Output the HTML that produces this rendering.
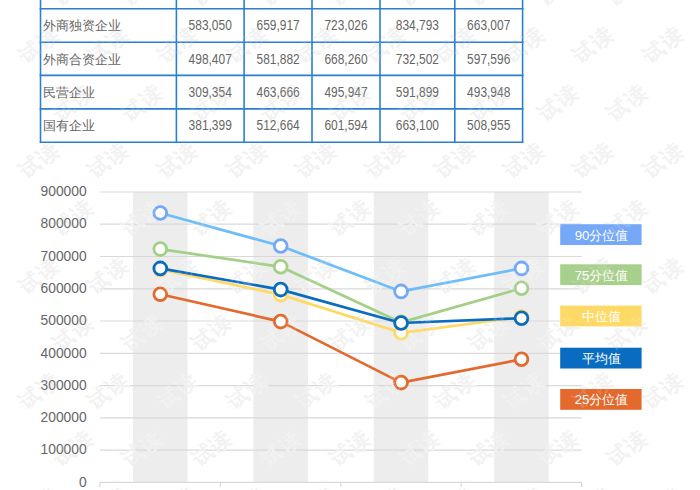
<!DOCTYPE html><html><head><meta charset="utf-8"><style>html,body{margin:0;padding:0;background:#fff;width:700px;height:490px;overflow:hidden}svg{display:block}text{font-family:"Liberation Sans",sans-serif}</style></head><body>
<svg width="700" height="490" viewBox="0 0 700 490">
<g fill="#ededed">
<rect x="133.0" y="192.0" width="54.5" height="290.4"/>
<rect x="253.4" y="192.0" width="54.5" height="290.4"/>
<rect x="373.8" y="192.0" width="54.5" height="290.4"/>
<rect x="494.2" y="192.0" width="54.5" height="290.4"/>
</g>
<g stroke="#d9d9d9" stroke-width="1.2">
<line x1="100" y1="482.4" x2="581.6" y2="482.4"/>
<line x1="100" y1="450.1" x2="581.6" y2="450.1"/>
<line x1="100" y1="417.9" x2="581.6" y2="417.9"/>
<line x1="100" y1="385.6" x2="581.6" y2="385.6"/>
<line x1="100" y1="353.3" x2="581.6" y2="353.3"/>
<line x1="100" y1="321.0" x2="581.6" y2="321.0"/>
<line x1="100" y1="288.8" x2="581.6" y2="288.8"/>
<line x1="100" y1="256.5" x2="581.6" y2="256.5"/>
<line x1="100" y1="224.2" x2="581.6" y2="224.2"/>
<line x1="100" y1="192.0" x2="581.6" y2="192.0"/>
<line x1="100.0" y1="482.4" x2="100.0" y2="486.9"/>
<line x1="220.4" y1="482.4" x2="220.4" y2="486.9"/>
<line x1="340.8" y1="482.4" x2="340.8" y2="486.9"/>
<line x1="461.2" y1="482.4" x2="461.2" y2="486.9"/>
<line x1="581.6" y1="482.4" x2="581.6" y2="486.9"/>
</g>
<g fill="#f2f2f2" fill-opacity="1" font-size="21" stroke="#f2f2f2" stroke-opacity="1" stroke-width="0.5"><text x="73.2" y="-13.2" transform="rotate(-38 73.2 -13.2)" text-anchor="middle" dominant-baseline="central" letter-spacing="1.5">试读</text><text x="142.5" y="-13.2" transform="rotate(-38 142.5 -13.2)" text-anchor="middle" dominant-baseline="central" letter-spacing="1.5">试读</text><text x="211.8" y="-13.2" transform="rotate(-38 211.8 -13.2)" text-anchor="middle" dominant-baseline="central" letter-spacing="1.5">试读</text><text x="281.1" y="-13.2" transform="rotate(-38 281.1 -13.2)" text-anchor="middle" dominant-baseline="central" letter-spacing="1.5">试读</text><text x="350.4" y="-13.2" transform="rotate(-38 350.4 -13.2)" text-anchor="middle" dominant-baseline="central" letter-spacing="1.5">试读</text><text x="419.7" y="-13.2" transform="rotate(-38 419.7 -13.2)" text-anchor="middle" dominant-baseline="central" letter-spacing="1.5">试读</text><text x="489.0" y="-13.2" transform="rotate(-38 489.0 -13.2)" text-anchor="middle" dominant-baseline="central" letter-spacing="1.5">试读</text><text x="558.3" y="-13.2" transform="rotate(-38 558.3 -13.2)" text-anchor="middle" dominant-baseline="central" letter-spacing="1.5">试读</text><text x="627.6" y="-13.2" transform="rotate(-38 627.6 -13.2)" text-anchor="middle" dominant-baseline="central" letter-spacing="1.5">试读</text><text x="39.2" y="44.4" transform="rotate(-38 39.2 44.4)" text-anchor="middle" dominant-baseline="central" letter-spacing="1.5">试读</text><text x="108.5" y="44.4" transform="rotate(-38 108.5 44.4)" text-anchor="middle" dominant-baseline="central" letter-spacing="1.5">试读</text><text x="177.8" y="44.4" transform="rotate(-38 177.8 44.4)" text-anchor="middle" dominant-baseline="central" letter-spacing="1.5">试读</text><text x="247.1" y="44.4" transform="rotate(-38 247.1 44.4)" text-anchor="middle" dominant-baseline="central" letter-spacing="1.5">试读</text><text x="316.4" y="44.4" transform="rotate(-38 316.4 44.4)" text-anchor="middle" dominant-baseline="central" letter-spacing="1.5">试读</text><text x="385.7" y="44.4" transform="rotate(-38 385.7 44.4)" text-anchor="middle" dominant-baseline="central" letter-spacing="1.5">试读</text><text x="455.0" y="44.4" transform="rotate(-38 455.0 44.4)" text-anchor="middle" dominant-baseline="central" letter-spacing="1.5">试读</text><text x="524.3" y="44.4" transform="rotate(-38 524.3 44.4)" text-anchor="middle" dominant-baseline="central" letter-spacing="1.5">试读</text><text x="593.6" y="44.4" transform="rotate(-38 593.6 44.4)" text-anchor="middle" dominant-baseline="central" letter-spacing="1.5">试读</text><text x="662.9" y="44.4" transform="rotate(-38 662.9 44.4)" text-anchor="middle" dominant-baseline="central" letter-spacing="1.5">试读</text><text x="73.2" y="102.0" transform="rotate(-38 73.2 102.0)" text-anchor="middle" dominant-baseline="central" letter-spacing="1.5">试读</text><text x="142.5" y="102.0" transform="rotate(-38 142.5 102.0)" text-anchor="middle" dominant-baseline="central" letter-spacing="1.5">试读</text><text x="211.8" y="102.0" transform="rotate(-38 211.8 102.0)" text-anchor="middle" dominant-baseline="central" letter-spacing="1.5">试读</text><text x="281.1" y="102.0" transform="rotate(-38 281.1 102.0)" text-anchor="middle" dominant-baseline="central" letter-spacing="1.5">试读</text><text x="350.4" y="102.0" transform="rotate(-38 350.4 102.0)" text-anchor="middle" dominant-baseline="central" letter-spacing="1.5">试读</text><text x="419.7" y="102.0" transform="rotate(-38 419.7 102.0)" text-anchor="middle" dominant-baseline="central" letter-spacing="1.5">试读</text><text x="489.0" y="102.0" transform="rotate(-38 489.0 102.0)" text-anchor="middle" dominant-baseline="central" letter-spacing="1.5">试读</text><text x="558.3" y="102.0" transform="rotate(-38 558.3 102.0)" text-anchor="middle" dominant-baseline="central" letter-spacing="1.5">试读</text><text x="627.6" y="102.0" transform="rotate(-38 627.6 102.0)" text-anchor="middle" dominant-baseline="central" letter-spacing="1.5">试读</text><text x="39.2" y="159.6" transform="rotate(-38 39.2 159.6)" text-anchor="middle" dominant-baseline="central" letter-spacing="1.5">试读</text><text x="108.5" y="159.6" transform="rotate(-38 108.5 159.6)" text-anchor="middle" dominant-baseline="central" letter-spacing="1.5">试读</text><text x="177.8" y="159.6" transform="rotate(-38 177.8 159.6)" text-anchor="middle" dominant-baseline="central" letter-spacing="1.5">试读</text><text x="247.1" y="159.6" transform="rotate(-38 247.1 159.6)" text-anchor="middle" dominant-baseline="central" letter-spacing="1.5">试读</text><text x="316.4" y="159.6" transform="rotate(-38 316.4 159.6)" text-anchor="middle" dominant-baseline="central" letter-spacing="1.5">试读</text><text x="385.7" y="159.6" transform="rotate(-38 385.7 159.6)" text-anchor="middle" dominant-baseline="central" letter-spacing="1.5">试读</text><text x="455.0" y="159.6" transform="rotate(-38 455.0 159.6)" text-anchor="middle" dominant-baseline="central" letter-spacing="1.5">试读</text><text x="524.3" y="159.6" transform="rotate(-38 524.3 159.6)" text-anchor="middle" dominant-baseline="central" letter-spacing="1.5">试读</text><text x="593.6" y="159.6" transform="rotate(-38 593.6 159.6)" text-anchor="middle" dominant-baseline="central" letter-spacing="1.5">试读</text><text x="662.9" y="159.6" transform="rotate(-38 662.9 159.6)" text-anchor="middle" dominant-baseline="central" letter-spacing="1.5">试读</text><text x="73.2" y="217.2" transform="rotate(-38 73.2 217.2)" text-anchor="middle" dominant-baseline="central" letter-spacing="1.5">试读</text><text x="142.5" y="217.2" transform="rotate(-38 142.5 217.2)" text-anchor="middle" dominant-baseline="central" letter-spacing="1.5">试读</text><text x="211.8" y="217.2" transform="rotate(-38 211.8 217.2)" text-anchor="middle" dominant-baseline="central" letter-spacing="1.5">试读</text><text x="281.1" y="217.2" transform="rotate(-38 281.1 217.2)" text-anchor="middle" dominant-baseline="central" letter-spacing="1.5">试读</text><text x="350.4" y="217.2" transform="rotate(-38 350.4 217.2)" text-anchor="middle" dominant-baseline="central" letter-spacing="1.5">试读</text><text x="419.7" y="217.2" transform="rotate(-38 419.7 217.2)" text-anchor="middle" dominant-baseline="central" letter-spacing="1.5">试读</text><text x="489.0" y="217.2" transform="rotate(-38 489.0 217.2)" text-anchor="middle" dominant-baseline="central" letter-spacing="1.5">试读</text><text x="558.3" y="217.2" transform="rotate(-38 558.3 217.2)" text-anchor="middle" dominant-baseline="central" letter-spacing="1.5">试读</text><text x="627.6" y="217.2" transform="rotate(-38 627.6 217.2)" text-anchor="middle" dominant-baseline="central" letter-spacing="1.5">试读</text><text x="39.2" y="274.8" transform="rotate(-38 39.2 274.8)" text-anchor="middle" dominant-baseline="central" letter-spacing="1.5">试读</text><text x="108.5" y="274.8" transform="rotate(-38 108.5 274.8)" text-anchor="middle" dominant-baseline="central" letter-spacing="1.5">试读</text><text x="177.8" y="274.8" transform="rotate(-38 177.8 274.8)" text-anchor="middle" dominant-baseline="central" letter-spacing="1.5">试读</text><text x="247.1" y="274.8" transform="rotate(-38 247.1 274.8)" text-anchor="middle" dominant-baseline="central" letter-spacing="1.5">试读</text><text x="316.4" y="274.8" transform="rotate(-38 316.4 274.8)" text-anchor="middle" dominant-baseline="central" letter-spacing="1.5">试读</text><text x="385.7" y="274.8" transform="rotate(-38 385.7 274.8)" text-anchor="middle" dominant-baseline="central" letter-spacing="1.5">试读</text><text x="455.0" y="274.8" transform="rotate(-38 455.0 274.8)" text-anchor="middle" dominant-baseline="central" letter-spacing="1.5">试读</text><text x="524.3" y="274.8" transform="rotate(-38 524.3 274.8)" text-anchor="middle" dominant-baseline="central" letter-spacing="1.5">试读</text><text x="593.6" y="274.8" transform="rotate(-38 593.6 274.8)" text-anchor="middle" dominant-baseline="central" letter-spacing="1.5">试读</text><text x="662.9" y="274.8" transform="rotate(-38 662.9 274.8)" text-anchor="middle" dominant-baseline="central" letter-spacing="1.5">试读</text><text x="73.2" y="332.4" transform="rotate(-38 73.2 332.4)" text-anchor="middle" dominant-baseline="central" letter-spacing="1.5">试读</text><text x="142.5" y="332.4" transform="rotate(-38 142.5 332.4)" text-anchor="middle" dominant-baseline="central" letter-spacing="1.5">试读</text><text x="211.8" y="332.4" transform="rotate(-38 211.8 332.4)" text-anchor="middle" dominant-baseline="central" letter-spacing="1.5">试读</text><text x="281.1" y="332.4" transform="rotate(-38 281.1 332.4)" text-anchor="middle" dominant-baseline="central" letter-spacing="1.5">试读</text><text x="350.4" y="332.4" transform="rotate(-38 350.4 332.4)" text-anchor="middle" dominant-baseline="central" letter-spacing="1.5">试读</text><text x="419.7" y="332.4" transform="rotate(-38 419.7 332.4)" text-anchor="middle" dominant-baseline="central" letter-spacing="1.5">试读</text><text x="489.0" y="332.4" transform="rotate(-38 489.0 332.4)" text-anchor="middle" dominant-baseline="central" letter-spacing="1.5">试读</text><text x="558.3" y="332.4" transform="rotate(-38 558.3 332.4)" text-anchor="middle" dominant-baseline="central" letter-spacing="1.5">试读</text><text x="627.6" y="332.4" transform="rotate(-38 627.6 332.4)" text-anchor="middle" dominant-baseline="central" letter-spacing="1.5">试读</text><text x="39.2" y="390.0" transform="rotate(-38 39.2 390.0)" text-anchor="middle" dominant-baseline="central" letter-spacing="1.5">试读</text><text x="108.5" y="390.0" transform="rotate(-38 108.5 390.0)" text-anchor="middle" dominant-baseline="central" letter-spacing="1.5">试读</text><text x="177.8" y="390.0" transform="rotate(-38 177.8 390.0)" text-anchor="middle" dominant-baseline="central" letter-spacing="1.5">试读</text><text x="247.1" y="390.0" transform="rotate(-38 247.1 390.0)" text-anchor="middle" dominant-baseline="central" letter-spacing="1.5">试读</text><text x="316.4" y="390.0" transform="rotate(-38 316.4 390.0)" text-anchor="middle" dominant-baseline="central" letter-spacing="1.5">试读</text><text x="385.7" y="390.0" transform="rotate(-38 385.7 390.0)" text-anchor="middle" dominant-baseline="central" letter-spacing="1.5">试读</text><text x="455.0" y="390.0" transform="rotate(-38 455.0 390.0)" text-anchor="middle" dominant-baseline="central" letter-spacing="1.5">试读</text><text x="524.3" y="390.0" transform="rotate(-38 524.3 390.0)" text-anchor="middle" dominant-baseline="central" letter-spacing="1.5">试读</text><text x="593.6" y="390.0" transform="rotate(-38 593.6 390.0)" text-anchor="middle" dominant-baseline="central" letter-spacing="1.5">试读</text><text x="662.9" y="390.0" transform="rotate(-38 662.9 390.0)" text-anchor="middle" dominant-baseline="central" letter-spacing="1.5">试读</text><text x="73.2" y="447.6" transform="rotate(-38 73.2 447.6)" text-anchor="middle" dominant-baseline="central" letter-spacing="1.5">试读</text><text x="142.5" y="447.6" transform="rotate(-38 142.5 447.6)" text-anchor="middle" dominant-baseline="central" letter-spacing="1.5">试读</text><text x="211.8" y="447.6" transform="rotate(-38 211.8 447.6)" text-anchor="middle" dominant-baseline="central" letter-spacing="1.5">试读</text><text x="281.1" y="447.6" transform="rotate(-38 281.1 447.6)" text-anchor="middle" dominant-baseline="central" letter-spacing="1.5">试读</text><text x="350.4" y="447.6" transform="rotate(-38 350.4 447.6)" text-anchor="middle" dominant-baseline="central" letter-spacing="1.5">试读</text><text x="419.7" y="447.6" transform="rotate(-38 419.7 447.6)" text-anchor="middle" dominant-baseline="central" letter-spacing="1.5">试读</text><text x="489.0" y="447.6" transform="rotate(-38 489.0 447.6)" text-anchor="middle" dominant-baseline="central" letter-spacing="1.5">试读</text><text x="558.3" y="447.6" transform="rotate(-38 558.3 447.6)" text-anchor="middle" dominant-baseline="central" letter-spacing="1.5">试读</text><text x="627.6" y="447.6" transform="rotate(-38 627.6 447.6)" text-anchor="middle" dominant-baseline="central" letter-spacing="1.5">试读</text><text x="39.2" y="505.2" transform="rotate(-38 39.2 505.2)" text-anchor="middle" dominant-baseline="central" letter-spacing="1.5">试读</text><text x="108.5" y="505.2" transform="rotate(-38 108.5 505.2)" text-anchor="middle" dominant-baseline="central" letter-spacing="1.5">试读</text><text x="177.8" y="505.2" transform="rotate(-38 177.8 505.2)" text-anchor="middle" dominant-baseline="central" letter-spacing="1.5">试读</text><text x="247.1" y="505.2" transform="rotate(-38 247.1 505.2)" text-anchor="middle" dominant-baseline="central" letter-spacing="1.5">试读</text><text x="316.4" y="505.2" transform="rotate(-38 316.4 505.2)" text-anchor="middle" dominant-baseline="central" letter-spacing="1.5">试读</text><text x="385.7" y="505.2" transform="rotate(-38 385.7 505.2)" text-anchor="middle" dominant-baseline="central" letter-spacing="1.5">试读</text><text x="455.0" y="505.2" transform="rotate(-38 455.0 505.2)" text-anchor="middle" dominant-baseline="central" letter-spacing="1.5">试读</text><text x="524.3" y="505.2" transform="rotate(-38 524.3 505.2)" text-anchor="middle" dominant-baseline="central" letter-spacing="1.5">试读</text><text x="593.6" y="505.2" transform="rotate(-38 593.6 505.2)" text-anchor="middle" dominant-baseline="central" letter-spacing="1.5">试读</text><text x="662.9" y="505.2" transform="rotate(-38 662.9 505.2)" text-anchor="middle" dominant-baseline="central" letter-spacing="1.5">试读</text><text x="73.2" y="562.8" transform="rotate(-38 73.2 562.8)" text-anchor="middle" dominant-baseline="central" letter-spacing="1.5">试读</text><text x="142.5" y="562.8" transform="rotate(-38 142.5 562.8)" text-anchor="middle" dominant-baseline="central" letter-spacing="1.5">试读</text><text x="211.8" y="562.8" transform="rotate(-38 211.8 562.8)" text-anchor="middle" dominant-baseline="central" letter-spacing="1.5">试读</text><text x="281.1" y="562.8" transform="rotate(-38 281.1 562.8)" text-anchor="middle" dominant-baseline="central" letter-spacing="1.5">试读</text><text x="350.4" y="562.8" transform="rotate(-38 350.4 562.8)" text-anchor="middle" dominant-baseline="central" letter-spacing="1.5">试读</text><text x="419.7" y="562.8" transform="rotate(-38 419.7 562.8)" text-anchor="middle" dominant-baseline="central" letter-spacing="1.5">试读</text><text x="489.0" y="562.8" transform="rotate(-38 489.0 562.8)" text-anchor="middle" dominant-baseline="central" letter-spacing="1.5">试读</text><text x="558.3" y="562.8" transform="rotate(-38 558.3 562.8)" text-anchor="middle" dominant-baseline="central" letter-spacing="1.5">试读</text><text x="627.6" y="562.8" transform="rotate(-38 627.6 562.8)" text-anchor="middle" dominant-baseline="central" letter-spacing="1.5">试读</text><text x="39.2" y="620.4" transform="rotate(-38 39.2 620.4)" text-anchor="middle" dominant-baseline="central" letter-spacing="1.5">试读</text><text x="108.5" y="620.4" transform="rotate(-38 108.5 620.4)" text-anchor="middle" dominant-baseline="central" letter-spacing="1.5">试读</text><text x="177.8" y="620.4" transform="rotate(-38 177.8 620.4)" text-anchor="middle" dominant-baseline="central" letter-spacing="1.5">试读</text><text x="247.1" y="620.4" transform="rotate(-38 247.1 620.4)" text-anchor="middle" dominant-baseline="central" letter-spacing="1.5">试读</text><text x="316.4" y="620.4" transform="rotate(-38 316.4 620.4)" text-anchor="middle" dominant-baseline="central" letter-spacing="1.5">试读</text><text x="385.7" y="620.4" transform="rotate(-38 385.7 620.4)" text-anchor="middle" dominant-baseline="central" letter-spacing="1.5">试读</text><text x="455.0" y="620.4" transform="rotate(-38 455.0 620.4)" text-anchor="middle" dominant-baseline="central" letter-spacing="1.5">试读</text><text x="524.3" y="620.4" transform="rotate(-38 524.3 620.4)" text-anchor="middle" dominant-baseline="central" letter-spacing="1.5">试读</text><text x="593.6" y="620.4" transform="rotate(-38 593.6 620.4)" text-anchor="middle" dominant-baseline="central" letter-spacing="1.5">试读</text><text x="662.9" y="620.4" transform="rotate(-38 662.9 620.4)" text-anchor="middle" dominant-baseline="central" letter-spacing="1.5">试读</text></g>
<g stroke="#2b7fcf" stroke-width="1.6" fill="none">
<line x1="40.5" y1="-30" x2="40.5" y2="142.2"/>
<line x1="176.4" y1="-30" x2="176.4" y2="142.2"/>
<line x1="244.1" y1="-30" x2="244.1" y2="142.2"/>
<line x1="312.0" y1="-30" x2="312.0" y2="142.2"/>
<line x1="380.0" y1="-30" x2="380.0" y2="142.2"/>
<line x1="454.8" y1="-30" x2="454.8" y2="142.2"/>
<line x1="522.6" y1="-30" x2="522.6" y2="142.2"/>
<line x1="39.65" y1="8.7" x2="523.45" y2="8.7"/>
<line x1="39.65" y1="42.2" x2="523.45" y2="42.2"/>
<line x1="39.65" y1="75.4" x2="523.45" y2="75.4"/>
<line x1="39.65" y1="108.9" x2="523.45" y2="108.9"/>
<line x1="39.65" y1="142.2" x2="523.45" y2="142.2"/>
</g>
<g fill="#666666" font-size="13">
<text x="43.4" y="30.2" font-size="13.3">外商独资企业</text>
<text transform="translate(210.2 30.4) scale(0.86 1)" font-size="13.9" text-anchor="middle">583,050</text>
<text transform="translate(278.1 30.4) scale(0.86 1)" font-size="13.9" text-anchor="middle">659,917</text>
<text transform="translate(346.0 30.4) scale(0.86 1)" font-size="13.9" text-anchor="middle">723,026</text>
<text transform="translate(417.4 30.4) scale(0.86 1)" font-size="13.9" text-anchor="middle">834,793</text>
<text transform="translate(488.7 30.4) scale(0.86 1)" font-size="13.9" text-anchor="middle">663,007</text>
<text x="43.4" y="63.5" font-size="13.3">外商合资企业</text>
<text transform="translate(210.2 63.7) scale(0.86 1)" font-size="13.9" text-anchor="middle">498,407</text>
<text transform="translate(278.1 63.7) scale(0.86 1)" font-size="13.9" text-anchor="middle">581,882</text>
<text transform="translate(346.0 63.7) scale(0.86 1)" font-size="13.9" text-anchor="middle">668,260</text>
<text transform="translate(417.4 63.7) scale(0.86 1)" font-size="13.9" text-anchor="middle">732,502</text>
<text transform="translate(488.7 63.7) scale(0.86 1)" font-size="13.9" text-anchor="middle">597,596</text>
<text x="43.4" y="96.9" font-size="13.3">民营企业</text>
<text transform="translate(210.2 97.1) scale(0.86 1)" font-size="13.9" text-anchor="middle">309,354</text>
<text transform="translate(278.1 97.1) scale(0.86 1)" font-size="13.9" text-anchor="middle">463,666</text>
<text transform="translate(346.0 97.1) scale(0.86 1)" font-size="13.9" text-anchor="middle">495,947</text>
<text transform="translate(417.4 97.1) scale(0.86 1)" font-size="13.9" text-anchor="middle">591,899</text>
<text transform="translate(488.7 97.1) scale(0.86 1)" font-size="13.9" text-anchor="middle">493,948</text>
<text x="43.4" y="130.2" font-size="13.3">国有企业</text>
<text transform="translate(210.2 130.4) scale(0.86 1)" font-size="13.9" text-anchor="middle">381,399</text>
<text transform="translate(278.1 130.4) scale(0.86 1)" font-size="13.9" text-anchor="middle">512,664</text>
<text transform="translate(346.0 130.4) scale(0.86 1)" font-size="13.9" text-anchor="middle">601,594</text>
<text transform="translate(417.4 130.4) scale(0.86 1)" font-size="13.9" text-anchor="middle">663,100</text>
<text transform="translate(488.7 130.4) scale(0.86 1)" font-size="13.9" text-anchor="middle">508,955</text>
</g>
<g fill="#666666" font-size="13.8" text-anchor="end">
<text x="86.6" y="486.6">0</text>
<text x="86.6" y="454.3">100000</text>
<text x="86.6" y="422.1">200000</text>
<text x="86.6" y="389.8">300000</text>
<text x="86.6" y="357.5">400000</text>
<text x="86.6" y="325.2">500000</text>
<text x="86.6" y="293.0">600000</text>
<text x="86.6" y="260.7">700000</text>
<text x="86.6" y="228.4">800000</text>
<text x="86.6" y="196.2">900000</text>
</g>
<polyline points="160.3,213.0 280.7,246.0 401.1,291.4 521.5,268.4" fill="none" stroke="#6dbdfa" stroke-width="2.7" stroke-linejoin="round"/>
<circle cx="160.3" cy="213.0" r="6.4" fill="#fff" stroke="#73a8f8" stroke-width="2.8"/>
<circle cx="280.7" cy="246.0" r="6.4" fill="#fff" stroke="#73a8f8" stroke-width="2.8"/>
<circle cx="401.1" cy="291.4" r="6.4" fill="#fff" stroke="#73a8f8" stroke-width="2.8"/>
<circle cx="521.5" cy="268.4" r="6.4" fill="#fff" stroke="#73a8f8" stroke-width="2.8"/>
<polyline points="160.3,294.2 280.7,321.6 401.1,382.6 521.5,359.3" fill="none" stroke="#e3692c" stroke-width="2.7" stroke-linejoin="round"/>
<circle cx="160.3" cy="294.2" r="6.4" fill="#fff" stroke="#e3692c" stroke-width="2.8"/>
<circle cx="280.7" cy="321.6" r="6.4" fill="#fff" stroke="#e3692c" stroke-width="2.8"/>
<circle cx="401.1" cy="382.6" r="6.4" fill="#fff" stroke="#e3692c" stroke-width="2.8"/>
<circle cx="521.5" cy="359.3" r="6.4" fill="#fff" stroke="#e3692c" stroke-width="2.8"/>
<polyline points="160.3,249.1 280.7,266.8 401.1,322.4 521.5,288.3" fill="none" stroke="#a3cf87" stroke-width="2.7" stroke-linejoin="round"/>
<circle cx="160.3" cy="249.1" r="6.4" fill="#fff" stroke="#a3cf87" stroke-width="2.8"/>
<circle cx="280.7" cy="266.8" r="6.4" fill="#fff" stroke="#a3cf87" stroke-width="2.8"/>
<circle cx="401.1" cy="322.4" r="6.4" fill="#fff" stroke="#a3cf87" stroke-width="2.8"/>
<circle cx="521.5" cy="288.3" r="6.4" fill="#fff" stroke="#a3cf87" stroke-width="2.8"/>
<polyline points="160.3,269.4 280.7,294.6 401.1,332.8 521.5,317.0" fill="none" stroke="#ffd966" stroke-width="2.7" stroke-linejoin="round"/>
<circle cx="160.3" cy="269.4" r="6.4" fill="#fff" stroke="#ffd966" stroke-width="2.8"/>
<circle cx="280.7" cy="294.6" r="6.4" fill="#fff" stroke="#ffd966" stroke-width="2.8"/>
<circle cx="401.1" cy="332.8" r="6.4" fill="#fff" stroke="#ffd966" stroke-width="2.8"/>
<circle cx="521.5" cy="317.0" r="6.4" fill="#fff" stroke="#ffd966" stroke-width="2.8"/>
<polyline points="160.3,268.4 280.7,289.6 401.1,323.0 521.5,318.2" fill="none" stroke="#0a6cc0" stroke-width="2.7" stroke-linejoin="round"/>
<circle cx="160.3" cy="268.4" r="6.4" fill="#fff" stroke="#0a6cc0" stroke-width="2.8"/>
<circle cx="280.7" cy="289.6" r="6.4" fill="#fff" stroke="#0a6cc0" stroke-width="2.8"/>
<circle cx="401.1" cy="323.0" r="6.4" fill="#fff" stroke="#0a6cc0" stroke-width="2.8"/>
<circle cx="521.5" cy="318.2" r="6.4" fill="#fff" stroke="#0a6cc0" stroke-width="2.8"/>
<rect x="560.2" y="224.2" width="81.4" height="20.8" fill="#76a8f8"/>
<text x="601.6" y="239.5" fill="#fff" font-size="13.2" text-anchor="middle">90分位值</text>
<rect x="560.2" y="264.3" width="81.4" height="20.8" fill="#a8d08d"/>
<text x="601.6" y="279.6" fill="#fff" font-size="13.2" text-anchor="middle">75分位值</text>
<rect x="560.2" y="305.6" width="81.4" height="20.8" fill="#ffd966"/>
<text x="601.6" y="320.90000000000003" fill="#fff" font-size="13.2" text-anchor="middle">中位值</text>
<rect x="560.2" y="347.7" width="81.4" height="20.8" fill="#0a6cc0"/>
<text x="601.6" y="363.0" fill="#fff" font-size="13.2" text-anchor="middle">平均值</text>
<rect x="560.2" y="389.0" width="81.4" height="20.8" fill="#e3692c"/>
<text x="601.6" y="404.3" fill="#fff" font-size="13.2" text-anchor="middle">25分位值</text>
<g fill="#f2f2f2" fill-opacity="0.2" font-size="21"><text x="73.2" y="-13.2" transform="rotate(-38 73.2 -13.2)" text-anchor="middle" dominant-baseline="central" letter-spacing="1.5">试读</text><text x="142.5" y="-13.2" transform="rotate(-38 142.5 -13.2)" text-anchor="middle" dominant-baseline="central" letter-spacing="1.5">试读</text><text x="211.8" y="-13.2" transform="rotate(-38 211.8 -13.2)" text-anchor="middle" dominant-baseline="central" letter-spacing="1.5">试读</text><text x="281.1" y="-13.2" transform="rotate(-38 281.1 -13.2)" text-anchor="middle" dominant-baseline="central" letter-spacing="1.5">试读</text><text x="350.4" y="-13.2" transform="rotate(-38 350.4 -13.2)" text-anchor="middle" dominant-baseline="central" letter-spacing="1.5">试读</text><text x="419.7" y="-13.2" transform="rotate(-38 419.7 -13.2)" text-anchor="middle" dominant-baseline="central" letter-spacing="1.5">试读</text><text x="489.0" y="-13.2" transform="rotate(-38 489.0 -13.2)" text-anchor="middle" dominant-baseline="central" letter-spacing="1.5">试读</text><text x="558.3" y="-13.2" transform="rotate(-38 558.3 -13.2)" text-anchor="middle" dominant-baseline="central" letter-spacing="1.5">试读</text><text x="627.6" y="-13.2" transform="rotate(-38 627.6 -13.2)" text-anchor="middle" dominant-baseline="central" letter-spacing="1.5">试读</text><text x="39.2" y="44.4" transform="rotate(-38 39.2 44.4)" text-anchor="middle" dominant-baseline="central" letter-spacing="1.5">试读</text><text x="108.5" y="44.4" transform="rotate(-38 108.5 44.4)" text-anchor="middle" dominant-baseline="central" letter-spacing="1.5">试读</text><text x="177.8" y="44.4" transform="rotate(-38 177.8 44.4)" text-anchor="middle" dominant-baseline="central" letter-spacing="1.5">试读</text><text x="247.1" y="44.4" transform="rotate(-38 247.1 44.4)" text-anchor="middle" dominant-baseline="central" letter-spacing="1.5">试读</text><text x="316.4" y="44.4" transform="rotate(-38 316.4 44.4)" text-anchor="middle" dominant-baseline="central" letter-spacing="1.5">试读</text><text x="385.7" y="44.4" transform="rotate(-38 385.7 44.4)" text-anchor="middle" dominant-baseline="central" letter-spacing="1.5">试读</text><text x="455.0" y="44.4" transform="rotate(-38 455.0 44.4)" text-anchor="middle" dominant-baseline="central" letter-spacing="1.5">试读</text><text x="524.3" y="44.4" transform="rotate(-38 524.3 44.4)" text-anchor="middle" dominant-baseline="central" letter-spacing="1.5">试读</text><text x="593.6" y="44.4" transform="rotate(-38 593.6 44.4)" text-anchor="middle" dominant-baseline="central" letter-spacing="1.5">试读</text><text x="662.9" y="44.4" transform="rotate(-38 662.9 44.4)" text-anchor="middle" dominant-baseline="central" letter-spacing="1.5">试读</text><text x="73.2" y="102.0" transform="rotate(-38 73.2 102.0)" text-anchor="middle" dominant-baseline="central" letter-spacing="1.5">试读</text><text x="142.5" y="102.0" transform="rotate(-38 142.5 102.0)" text-anchor="middle" dominant-baseline="central" letter-spacing="1.5">试读</text><text x="211.8" y="102.0" transform="rotate(-38 211.8 102.0)" text-anchor="middle" dominant-baseline="central" letter-spacing="1.5">试读</text><text x="281.1" y="102.0" transform="rotate(-38 281.1 102.0)" text-anchor="middle" dominant-baseline="central" letter-spacing="1.5">试读</text><text x="350.4" y="102.0" transform="rotate(-38 350.4 102.0)" text-anchor="middle" dominant-baseline="central" letter-spacing="1.5">试读</text><text x="419.7" y="102.0" transform="rotate(-38 419.7 102.0)" text-anchor="middle" dominant-baseline="central" letter-spacing="1.5">试读</text><text x="489.0" y="102.0" transform="rotate(-38 489.0 102.0)" text-anchor="middle" dominant-baseline="central" letter-spacing="1.5">试读</text><text x="558.3" y="102.0" transform="rotate(-38 558.3 102.0)" text-anchor="middle" dominant-baseline="central" letter-spacing="1.5">试读</text><text x="627.6" y="102.0" transform="rotate(-38 627.6 102.0)" text-anchor="middle" dominant-baseline="central" letter-spacing="1.5">试读</text><text x="39.2" y="159.6" transform="rotate(-38 39.2 159.6)" text-anchor="middle" dominant-baseline="central" letter-spacing="1.5">试读</text><text x="108.5" y="159.6" transform="rotate(-38 108.5 159.6)" text-anchor="middle" dominant-baseline="central" letter-spacing="1.5">试读</text><text x="177.8" y="159.6" transform="rotate(-38 177.8 159.6)" text-anchor="middle" dominant-baseline="central" letter-spacing="1.5">试读</text><text x="247.1" y="159.6" transform="rotate(-38 247.1 159.6)" text-anchor="middle" dominant-baseline="central" letter-spacing="1.5">试读</text><text x="316.4" y="159.6" transform="rotate(-38 316.4 159.6)" text-anchor="middle" dominant-baseline="central" letter-spacing="1.5">试读</text><text x="385.7" y="159.6" transform="rotate(-38 385.7 159.6)" text-anchor="middle" dominant-baseline="central" letter-spacing="1.5">试读</text><text x="455.0" y="159.6" transform="rotate(-38 455.0 159.6)" text-anchor="middle" dominant-baseline="central" letter-spacing="1.5">试读</text><text x="524.3" y="159.6" transform="rotate(-38 524.3 159.6)" text-anchor="middle" dominant-baseline="central" letter-spacing="1.5">试读</text><text x="593.6" y="159.6" transform="rotate(-38 593.6 159.6)" text-anchor="middle" dominant-baseline="central" letter-spacing="1.5">试读</text><text x="662.9" y="159.6" transform="rotate(-38 662.9 159.6)" text-anchor="middle" dominant-baseline="central" letter-spacing="1.5">试读</text><text x="73.2" y="217.2" transform="rotate(-38 73.2 217.2)" text-anchor="middle" dominant-baseline="central" letter-spacing="1.5">试读</text><text x="142.5" y="217.2" transform="rotate(-38 142.5 217.2)" text-anchor="middle" dominant-baseline="central" letter-spacing="1.5">试读</text><text x="211.8" y="217.2" transform="rotate(-38 211.8 217.2)" text-anchor="middle" dominant-baseline="central" letter-spacing="1.5">试读</text><text x="281.1" y="217.2" transform="rotate(-38 281.1 217.2)" text-anchor="middle" dominant-baseline="central" letter-spacing="1.5">试读</text><text x="350.4" y="217.2" transform="rotate(-38 350.4 217.2)" text-anchor="middle" dominant-baseline="central" letter-spacing="1.5">试读</text><text x="419.7" y="217.2" transform="rotate(-38 419.7 217.2)" text-anchor="middle" dominant-baseline="central" letter-spacing="1.5">试读</text><text x="489.0" y="217.2" transform="rotate(-38 489.0 217.2)" text-anchor="middle" dominant-baseline="central" letter-spacing="1.5">试读</text><text x="558.3" y="217.2" transform="rotate(-38 558.3 217.2)" text-anchor="middle" dominant-baseline="central" letter-spacing="1.5">试读</text><text x="627.6" y="217.2" transform="rotate(-38 627.6 217.2)" text-anchor="middle" dominant-baseline="central" letter-spacing="1.5">试读</text><text x="39.2" y="274.8" transform="rotate(-38 39.2 274.8)" text-anchor="middle" dominant-baseline="central" letter-spacing="1.5">试读</text><text x="108.5" y="274.8" transform="rotate(-38 108.5 274.8)" text-anchor="middle" dominant-baseline="central" letter-spacing="1.5">试读</text><text x="177.8" y="274.8" transform="rotate(-38 177.8 274.8)" text-anchor="middle" dominant-baseline="central" letter-spacing="1.5">试读</text><text x="247.1" y="274.8" transform="rotate(-38 247.1 274.8)" text-anchor="middle" dominant-baseline="central" letter-spacing="1.5">试读</text><text x="316.4" y="274.8" transform="rotate(-38 316.4 274.8)" text-anchor="middle" dominant-baseline="central" letter-spacing="1.5">试读</text><text x="385.7" y="274.8" transform="rotate(-38 385.7 274.8)" text-anchor="middle" dominant-baseline="central" letter-spacing="1.5">试读</text><text x="455.0" y="274.8" transform="rotate(-38 455.0 274.8)" text-anchor="middle" dominant-baseline="central" letter-spacing="1.5">试读</text><text x="524.3" y="274.8" transform="rotate(-38 524.3 274.8)" text-anchor="middle" dominant-baseline="central" letter-spacing="1.5">试读</text><text x="593.6" y="274.8" transform="rotate(-38 593.6 274.8)" text-anchor="middle" dominant-baseline="central" letter-spacing="1.5">试读</text><text x="662.9" y="274.8" transform="rotate(-38 662.9 274.8)" text-anchor="middle" dominant-baseline="central" letter-spacing="1.5">试读</text><text x="73.2" y="332.4" transform="rotate(-38 73.2 332.4)" text-anchor="middle" dominant-baseline="central" letter-spacing="1.5">试读</text><text x="142.5" y="332.4" transform="rotate(-38 142.5 332.4)" text-anchor="middle" dominant-baseline="central" letter-spacing="1.5">试读</text><text x="211.8" y="332.4" transform="rotate(-38 211.8 332.4)" text-anchor="middle" dominant-baseline="central" letter-spacing="1.5">试读</text><text x="281.1" y="332.4" transform="rotate(-38 281.1 332.4)" text-anchor="middle" dominant-baseline="central" letter-spacing="1.5">试读</text><text x="350.4" y="332.4" transform="rotate(-38 350.4 332.4)" text-anchor="middle" dominant-baseline="central" letter-spacing="1.5">试读</text><text x="419.7" y="332.4" transform="rotate(-38 419.7 332.4)" text-anchor="middle" dominant-baseline="central" letter-spacing="1.5">试读</text><text x="489.0" y="332.4" transform="rotate(-38 489.0 332.4)" text-anchor="middle" dominant-baseline="central" letter-spacing="1.5">试读</text><text x="558.3" y="332.4" transform="rotate(-38 558.3 332.4)" text-anchor="middle" dominant-baseline="central" letter-spacing="1.5">试读</text><text x="627.6" y="332.4" transform="rotate(-38 627.6 332.4)" text-anchor="middle" dominant-baseline="central" letter-spacing="1.5">试读</text><text x="39.2" y="390.0" transform="rotate(-38 39.2 390.0)" text-anchor="middle" dominant-baseline="central" letter-spacing="1.5">试读</text><text x="108.5" y="390.0" transform="rotate(-38 108.5 390.0)" text-anchor="middle" dominant-baseline="central" letter-spacing="1.5">试读</text><text x="177.8" y="390.0" transform="rotate(-38 177.8 390.0)" text-anchor="middle" dominant-baseline="central" letter-spacing="1.5">试读</text><text x="247.1" y="390.0" transform="rotate(-38 247.1 390.0)" text-anchor="middle" dominant-baseline="central" letter-spacing="1.5">试读</text><text x="316.4" y="390.0" transform="rotate(-38 316.4 390.0)" text-anchor="middle" dominant-baseline="central" letter-spacing="1.5">试读</text><text x="385.7" y="390.0" transform="rotate(-38 385.7 390.0)" text-anchor="middle" dominant-baseline="central" letter-spacing="1.5">试读</text><text x="455.0" y="390.0" transform="rotate(-38 455.0 390.0)" text-anchor="middle" dominant-baseline="central" letter-spacing="1.5">试读</text><text x="524.3" y="390.0" transform="rotate(-38 524.3 390.0)" text-anchor="middle" dominant-baseline="central" letter-spacing="1.5">试读</text><text x="593.6" y="390.0" transform="rotate(-38 593.6 390.0)" text-anchor="middle" dominant-baseline="central" letter-spacing="1.5">试读</text><text x="662.9" y="390.0" transform="rotate(-38 662.9 390.0)" text-anchor="middle" dominant-baseline="central" letter-spacing="1.5">试读</text><text x="73.2" y="447.6" transform="rotate(-38 73.2 447.6)" text-anchor="middle" dominant-baseline="central" letter-spacing="1.5">试读</text><text x="142.5" y="447.6" transform="rotate(-38 142.5 447.6)" text-anchor="middle" dominant-baseline="central" letter-spacing="1.5">试读</text><text x="211.8" y="447.6" transform="rotate(-38 211.8 447.6)" text-anchor="middle" dominant-baseline="central" letter-spacing="1.5">试读</text><text x="281.1" y="447.6" transform="rotate(-38 281.1 447.6)" text-anchor="middle" dominant-baseline="central" letter-spacing="1.5">试读</text><text x="350.4" y="447.6" transform="rotate(-38 350.4 447.6)" text-anchor="middle" dominant-baseline="central" letter-spacing="1.5">试读</text><text x="419.7" y="447.6" transform="rotate(-38 419.7 447.6)" text-anchor="middle" dominant-baseline="central" letter-spacing="1.5">试读</text><text x="489.0" y="447.6" transform="rotate(-38 489.0 447.6)" text-anchor="middle" dominant-baseline="central" letter-spacing="1.5">试读</text><text x="558.3" y="447.6" transform="rotate(-38 558.3 447.6)" text-anchor="middle" dominant-baseline="central" letter-spacing="1.5">试读</text><text x="627.6" y="447.6" transform="rotate(-38 627.6 447.6)" text-anchor="middle" dominant-baseline="central" letter-spacing="1.5">试读</text><text x="39.2" y="505.2" transform="rotate(-38 39.2 505.2)" text-anchor="middle" dominant-baseline="central" letter-spacing="1.5">试读</text><text x="108.5" y="505.2" transform="rotate(-38 108.5 505.2)" text-anchor="middle" dominant-baseline="central" letter-spacing="1.5">试读</text><text x="177.8" y="505.2" transform="rotate(-38 177.8 505.2)" text-anchor="middle" dominant-baseline="central" letter-spacing="1.5">试读</text><text x="247.1" y="505.2" transform="rotate(-38 247.1 505.2)" text-anchor="middle" dominant-baseline="central" letter-spacing="1.5">试读</text><text x="316.4" y="505.2" transform="rotate(-38 316.4 505.2)" text-anchor="middle" dominant-baseline="central" letter-spacing="1.5">试读</text><text x="385.7" y="505.2" transform="rotate(-38 385.7 505.2)" text-anchor="middle" dominant-baseline="central" letter-spacing="1.5">试读</text><text x="455.0" y="505.2" transform="rotate(-38 455.0 505.2)" text-anchor="middle" dominant-baseline="central" letter-spacing="1.5">试读</text><text x="524.3" y="505.2" transform="rotate(-38 524.3 505.2)" text-anchor="middle" dominant-baseline="central" letter-spacing="1.5">试读</text><text x="593.6" y="505.2" transform="rotate(-38 593.6 505.2)" text-anchor="middle" dominant-baseline="central" letter-spacing="1.5">试读</text><text x="662.9" y="505.2" transform="rotate(-38 662.9 505.2)" text-anchor="middle" dominant-baseline="central" letter-spacing="1.5">试读</text><text x="73.2" y="562.8" transform="rotate(-38 73.2 562.8)" text-anchor="middle" dominant-baseline="central" letter-spacing="1.5">试读</text><text x="142.5" y="562.8" transform="rotate(-38 142.5 562.8)" text-anchor="middle" dominant-baseline="central" letter-spacing="1.5">试读</text><text x="211.8" y="562.8" transform="rotate(-38 211.8 562.8)" text-anchor="middle" dominant-baseline="central" letter-spacing="1.5">试读</text><text x="281.1" y="562.8" transform="rotate(-38 281.1 562.8)" text-anchor="middle" dominant-baseline="central" letter-spacing="1.5">试读</text><text x="350.4" y="562.8" transform="rotate(-38 350.4 562.8)" text-anchor="middle" dominant-baseline="central" letter-spacing="1.5">试读</text><text x="419.7" y="562.8" transform="rotate(-38 419.7 562.8)" text-anchor="middle" dominant-baseline="central" letter-spacing="1.5">试读</text><text x="489.0" y="562.8" transform="rotate(-38 489.0 562.8)" text-anchor="middle" dominant-baseline="central" letter-spacing="1.5">试读</text><text x="558.3" y="562.8" transform="rotate(-38 558.3 562.8)" text-anchor="middle" dominant-baseline="central" letter-spacing="1.5">试读</text><text x="627.6" y="562.8" transform="rotate(-38 627.6 562.8)" text-anchor="middle" dominant-baseline="central" letter-spacing="1.5">试读</text><text x="39.2" y="620.4" transform="rotate(-38 39.2 620.4)" text-anchor="middle" dominant-baseline="central" letter-spacing="1.5">试读</text><text x="108.5" y="620.4" transform="rotate(-38 108.5 620.4)" text-anchor="middle" dominant-baseline="central" letter-spacing="1.5">试读</text><text x="177.8" y="620.4" transform="rotate(-38 177.8 620.4)" text-anchor="middle" dominant-baseline="central" letter-spacing="1.5">试读</text><text x="247.1" y="620.4" transform="rotate(-38 247.1 620.4)" text-anchor="middle" dominant-baseline="central" letter-spacing="1.5">试读</text><text x="316.4" y="620.4" transform="rotate(-38 316.4 620.4)" text-anchor="middle" dominant-baseline="central" letter-spacing="1.5">试读</text><text x="385.7" y="620.4" transform="rotate(-38 385.7 620.4)" text-anchor="middle" dominant-baseline="central" letter-spacing="1.5">试读</text><text x="455.0" y="620.4" transform="rotate(-38 455.0 620.4)" text-anchor="middle" dominant-baseline="central" letter-spacing="1.5">试读</text><text x="524.3" y="620.4" transform="rotate(-38 524.3 620.4)" text-anchor="middle" dominant-baseline="central" letter-spacing="1.5">试读</text><text x="593.6" y="620.4" transform="rotate(-38 593.6 620.4)" text-anchor="middle" dominant-baseline="central" letter-spacing="1.5">试读</text><text x="662.9" y="620.4" transform="rotate(-38 662.9 620.4)" text-anchor="middle" dominant-baseline="central" letter-spacing="1.5">试读</text></g>
</svg></body></html>
